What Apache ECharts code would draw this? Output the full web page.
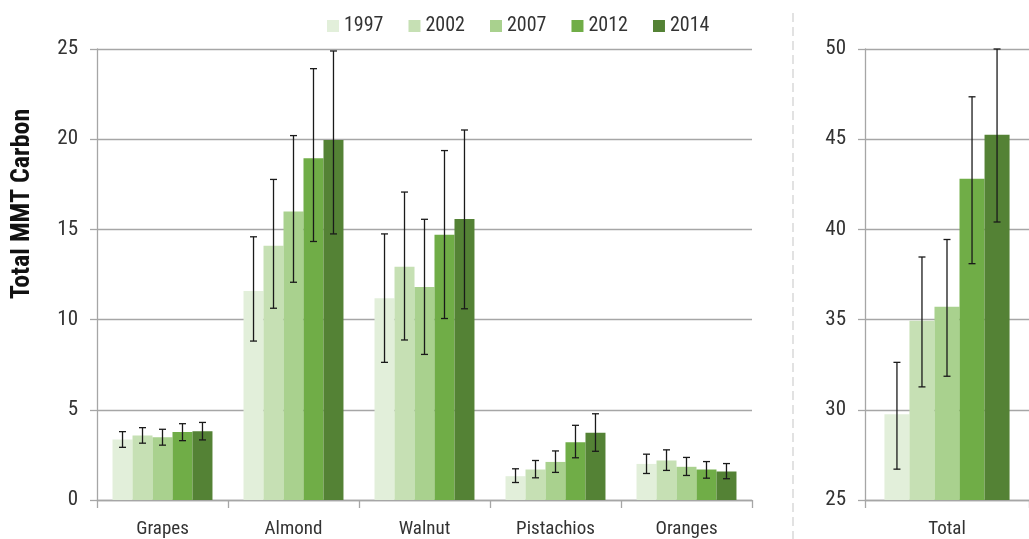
<!DOCTYPE html>
<html>
<head>
<meta charset="utf-8">
<script src="https://cdn.jsdelivr.net/npm/echarts@6/dist/echarts.min.js"></script>
<style>html,body{margin:0;padding:0;background:#fff}#c{width:1029px;height:539px}</style>
</head>
<body>
<div id="c"></div>
<script>
const categories = ['Grapes', 'Almond', 'Walnut', 'Pistachios', 'Oranges'];
const totalCategory = ['Total'];
const years = ['1997', '2002', '2007', '2012', '2014'];
const yTicksLeft = { min: 0, max: 25, interval: 5 };
const yTicksRight = { min: 25, max: 50, interval: 5 };

const v1997 = [3.35, 11.59, 11.19, 1.32, 2.00];
const v2002 = [3.57, 14.09, 12.93, 1.69, 2.19];
const v2007 = [3.48, 15.99, 11.81, 2.11, 1.84];
const v2012 = [3.77, 18.95, 14.70, 3.20, 1.69];
const v2014 = [3.81, 19.96, 15.58, 3.73, 1.58];

const lo1997 = [2.92, 8.81, 7.63, 0.97, 1.47];
const hi1997 = [3.79, 14.59, 14.75, 1.73, 2.54];
const lo2002 = [3.15, 10.63, 8.87, 1.23, 1.64];
const hi2002 = [4.01, 17.77, 17.07, 2.19, 2.78];
const lo2007 = [3.04, 12.07, 8.07, 1.53, 1.36];
const hi2007 = [3.92, 20.20, 15.56, 2.72, 2.36];
const lo2012 = [3.29, 14.33, 10.06, 2.34, 1.21];
const hi2012 = [4.23, 23.91, 19.37, 4.14, 2.13];
const lo2014 = [3.33, 14.75, 10.60, 2.70, 1.18];
const hi2014 = [4.30, 24.89, 20.51, 4.78, 2.02];

const totals = [29.76, 34.93, 35.71, 42.81, 45.24];
const totalLow = [26.71, 31.27, 31.86, 38.10, 40.41];
const totalHigh = [32.63, 38.47, 39.44, 47.35, 50.0];

const colors = ['#e2efda', '#c6e0b4', '#a9d18e', '#70ad47', '#548235'];
const FONT = '"Roboto Condensed", "Open Sans", sans-serif';
const GAP = 0.237;

const values = [v1997, v2002, v2007, v2012, v2014];
const lows = [lo1997, lo2002, lo2007, lo2012, lo2014];
const highs = [hi1997, hi2002, hi2007, hi2012, hi2014];

function errRender(params, api) {
  const cat = api.value(0), k = api.value(1);
  const pLo = api.coord([cat, api.value(2)]);
  const pHi = api.coord([cat, api.value(3)]);
  const band = api.size([1, 0])[0];
  const bw = band * (1 - GAP) / 5;
  const x = pLo[0] + (k - 2) * bw;
  const cap = 3.5;
  const st = { stroke: '#1a1a1a', lineWidth: 1.3 };
  return {
    type: 'group',
    children: [
      { type: 'line', shape: { x1: x, y1: pLo[1], x2: x, y2: pHi[1] }, style: st },
      { type: 'line', shape: { x1: x - cap, y1: pLo[1], x2: x + cap, y2: pLo[1] }, style: st },
      { type: 'line', shape: { x1: x - cap, y1: pHi[1], x2: x + cap, y2: pHi[1] }, style: st }
    ]
  };
}

const leftErr = [];
categories.forEach((c, i) => years.forEach((y, k) => leftErr.push([i, k, lows[k][i], highs[k][i]])));
const rightErr = years.map((y, k) => [0, k, totalLow[k], totalHigh[k]]);

const gridLine = { lineStyle: { color: '#a6a6a6', width: 1.3 } };
const axisCommon = {
  axisLine: { show: true, lineStyle: { color: '#a6a6a6', width: 1.3 } },
  axisTick: { show: true, length: 7, lineStyle: { color: '#a6a6a6', width: 1.3 } },
  axisLabel: { color: '#333', fontFamily: FONT, fontSize: 21, margin: 19 },
  splitLine: { show: true, ...gridLine }
};
const catCommon = {
  type: 'category',
  axisLine: { show: true, lineStyle: { color: '#a6a6a6', width: 1.3 } },
  axisTick: { show: true, length: 8, alignWithLabel: false, lineStyle: { color: '#a6a6a6', width: 1.3 } },
  axisLabel: { color: '#333', fontFamily: FONT, fontSize: 19, margin: 20 },
  splitLine: { show: false }
};

const series = [];
years.forEach((y, k) => {
  series.push({
    name: y, type: 'bar', xAxisIndex: 0, yAxisIndex: 0, data: values[k],
    itemStyle: { color: colors[k] }, barGap: '0%', barCategoryGap: (GAP * 100) + '%'
  });
});
years.forEach((y, k) => {
  series.push({
    name: y, type: 'bar', xAxisIndex: 1, yAxisIndex: 1, data: [totals[k]],
    itemStyle: { color: colors[k] }, barGap: '0%', barCategoryGap: (GAP * 100) + '%'
  });
});
series.push({ type: 'custom', xAxisIndex: 0, yAxisIndex: 0, renderItem: errRender, data: leftErr, encode: { x: 0, y: [2, 3] }, z: 10 });
series.push({ type: 'custom', xAxisIndex: 1, yAxisIndex: 1, renderItem: errRender, data: rightErr, encode: { x: 0, y: [2, 3] }, z: 10, clip: false });

const chart = echarts.init(document.getElementById('c'));
chart.setOption({
  animation: false,
  backgroundColor: '#fff',
  legend: {
    data: years, top: 11, left: 322, itemWidth: 12, itemHeight: 12, itemGap: 25,
    icon: 'rect', selectedMode: false,
    textStyle: { color: '#333', fontFamily: FONT, fontSize: 20 }
  },
  grid: [
    { left: 97, right: 277, top: 49, bottom: 37 },
    { left: 865, right: -10, top: 49, bottom: 37 }
  ],
  xAxis: [
    { ...catCommon, gridIndex: 0, data: categories },
    { ...catCommon, gridIndex: 1, data: totalCategory }
  ],
  yAxis: [
    { type: 'value', gridIndex: 0, ...yTicksLeft, ...axisCommon },
    { type: 'value', gridIndex: 1, ...yTicksRight, ...axisCommon }
  ],
  graphic: [
    { type: 'line', shape: { x1: 793, y1: 13, x2: 793, y2: 539 }, style: { stroke: '#d9d9d9', lineWidth: 1.5, lineDash: [9, 5] }, silent: true },
    { type: 'text', x: 22, y: 204, rotation: Math.PI / 2, style: { text: 'Total MMT Carbon', font: 'bold 26px "Roboto Condensed", sans-serif', fill: '#111', align: 'center', verticalAlign: 'middle' } }
  ],
  series: series
});
</script>
</body>
</html>
